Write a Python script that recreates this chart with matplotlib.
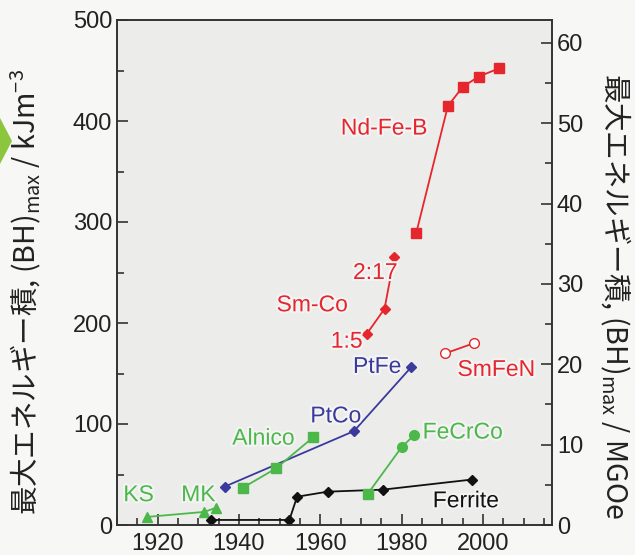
import matplotlib
matplotlib.use("Agg")
import matplotlib.pyplot as plt
import matplotlib.patheffects as pe
from matplotlib.patches import Polygon
from matplotlib.ticker import MultipleLocator

plt.rcParams['font.family'] = ['Liberation Sans', 'Noto Sans CJK JP', 'DejaVu Sans']
plt.rcParams['mathtext.fontset'] = 'custom'
plt.rcParams['mathtext.rm'] = 'Noto Sans CJK JP'
plt.rcParams['mathtext.it'] = 'Noto Sans CJK JP'
plt.rcParams['mathtext.default'] = 'rm'

# ---- data (year, (BH)max in kJ/m^3) ----
ndfeb_year = [1983.6, 1991.4, 1995.1, 1999.0, 2003.9]
ndfeb_val = [289, 415, 434, 444, 452]

smco_year = [1971.4, 1975.8, 1978.2]
smco_val = [189, 214, 265]

smfen_year = [1990.8, 1997.8]
smfen_val = [170, 180]

pt_year = [1936.5, 1968.3, 1982.3]
pt_val = [38, 93, 156]

alnico_year = [1941.0, 1949.1, 1958.3]
alnico_val = [37, 56, 87]

ksmk_year = [1917.4, 1931.5, 1934.3]
ksmk_val = [8, 13, 17]

ferrite_year = [1933.2, 1952.4, 1954.3, 1961.8, 1975.4, 1997.3]
ferrite_val = [5, 5, 28, 33, 35, 45]

fecrco_year = [1971.7, 1980.0, 1983.1]
fecrco_val = [31, 77, 89]

labels = ["Nd-Fe-B", "2:17", "Sm-Co", "1:5", "SmFeN", "PtFe", "PtCo",
          "Alnico", "FeCrCo", "KS", "MK", "Ferrite"]
label_year = [1975.7, 1973.5, 1958.0, 1966.5, 2003.3, 1974.0, 1963.8,
              1946.0, 1995.0, 1915.3, 1930.0, 1995.8]
label_val = [393, 250, 218, 182, 154, 157, 108, 86, 92, 30, 30, 24]
label_color = ["red", "red", "red", "red", "red", "blue", "blue",
               "green", "green", "green", "green", "black"]

MGOE = 7.9577  # kJ/m^3 per MGOe

RED = '#e6262d'
BLUE = '#3a3a9c'
GREEN = '#4cb84a'
BLACK = '#111111'
cmap = {"red": RED, "blue": BLUE, "green": GREEN, "black": BLACK}

fig = plt.figure(figsize=(6.35, 5.55), dpi=100, facecolor='#f7f7f6')
ax = fig.add_axes([117/635, 1-525/555, (552-117)/635, (525-20)/555])
ax.set_facecolor('#ececeb')

lw = 1.3
ax.plot(ndfeb_year, ndfeb_val, color=RED, lw=lw, marker='s', ms=7, zorder=3)
ax.plot(smco_year, smco_val, color=RED, lw=lw, marker='D', ms=5, zorder=3)
ax.plot(smfen_year, smfen_val, color=RED, lw=lw, marker='o', ms=7,
        mfc='white', mec=RED, zorder=3)
ax.plot(pt_year, pt_val, color=BLUE, lw=lw, marker='D', ms=5, zorder=3)
ax.plot(alnico_year, alnico_val, color=GREEN, lw=lw, marker='s', ms=7, zorder=3)
ax.plot(ksmk_year, ksmk_val, color=GREEN, lw=lw, marker='^', ms=7, zorder=3)
ax.plot(ferrite_year, ferrite_val, color=BLACK, lw=lw, marker='D', ms=5, zorder=3)
ax.plot(fecrco_year[:1], fecrco_val[:1], color=GREEN, lw=0, marker='s', ms=7, zorder=3)
ax.plot(fecrco_year, fecrco_val, color=GREEN, lw=lw, marker='o', ms=7, zorder=3,
        markevery=[1, 2])

for t, x, y, c in zip(labels, label_year, label_val, label_color):
    ax.text(x, y, t, color=cmap[c], fontsize=16.5, ha='center', va='center',
            zorder=4, path_effects=[pe.withStroke(linewidth=3, foreground='#f4f4f4')])

ax.set_xlim(1910, 2017)
ax.set_ylim(0, 500)
ax.xaxis.set_major_locator(MultipleLocator(20))
ax.xaxis.set_minor_locator(MultipleLocator(5))
ax.yaxis.set_major_locator(MultipleLocator(100))
ax.yaxis.set_minor_locator(MultipleLocator(50))
ax.tick_params(which='both', direction='in', labelsize=17, colors='#222222',
               width=1.1)
ax.tick_params(which='major', length=8)
ax.tick_params(which='minor', length=5)
ax.tick_params(axis='x', which='major', pad=6)
for s in ax.spines.values():
    s.set_linewidth(1.2)
    s.set_color('#333333')

ax2 = ax.twinx()
ax2.set_ylim(0, 500/MGOE)
ax2.yaxis.set_major_locator(MultipleLocator(10))
ax2.yaxis.set_minor_locator(MultipleLocator(5))
ax2.tick_params(which='both', direction='in', labelsize=17, colors='#222222', width=1.1)
ax2.tick_params(which='major', length=8)
ax2.tick_params(which='minor', length=5)
for s in ax2.spines.values():
    s.set_linewidth(1.2)
    s.set_color('#333333')

fig.text(26/635, 1-292/555, '最大エネルギー積, (BH)$_{max}$ / kJm$^{-3}$',
         rotation=90, ha='center', va='center', fontsize=20.5, color='#222222',
         family='Noto Sans CJK JP')
fig.text(615/635, 1-296/555, '最大エネルギー積, (BH)$_{max}$ / MGOe',
         rotation=270, ha='center', va='center', fontsize=20.5, color='#222222',
         family='Noto Sans CJK JP')

# decorative arrow at the left edge
fig.patches.append(Polygon([[0, 1-118/555], [12/635, 1-141/555], [0, 1-164/555]],
                           closed=True, transform=fig.transFigure,
                           facecolor='#8cc63f', edgecolor='none'))

fig.savefig('out.png', dpi=100, facecolor=fig.get_facecolor())
